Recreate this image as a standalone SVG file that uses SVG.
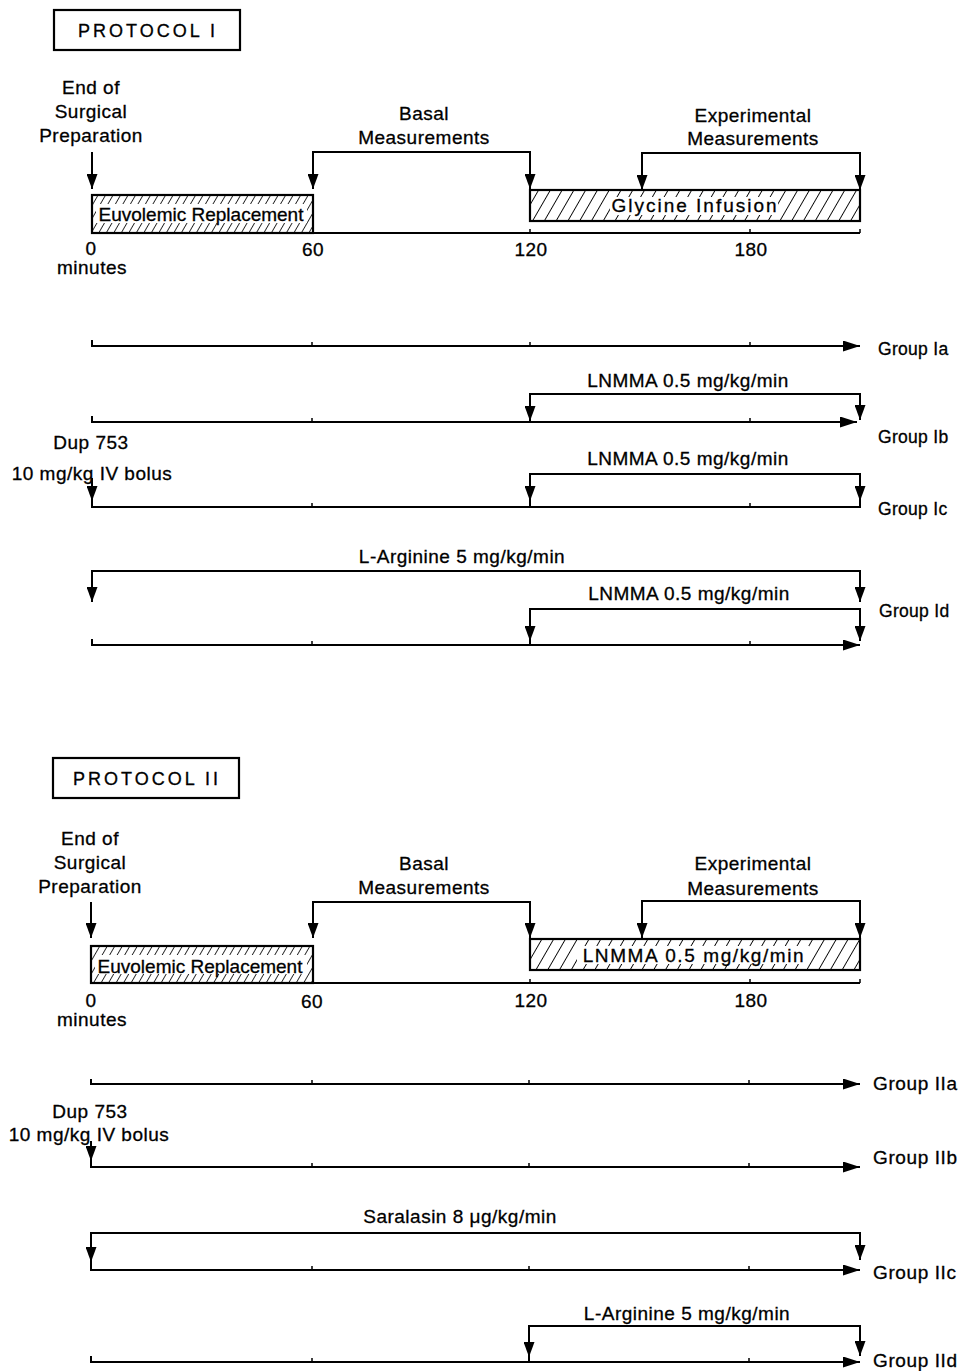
<svg xmlns="http://www.w3.org/2000/svg" width="959" height="1371" viewBox="0 0 959 1371">
<defs>
<style>
text{font-family:"Liberation Sans",Arial,Helvetica,sans-serif;fill:#000;stroke:#000;stroke-width:0.3px;font-size:19px;letter-spacing:0.5px}
.c{text-anchor:middle}
.grp1{font-size:17.5px;letter-spacing:0.3px}
.grp2{font-size:19px;letter-spacing:0.6px}
.title{font-size:18px;letter-spacing:3px}
.ln{fill:none;stroke:#000;stroke-width:2}
.dn{fill:none;stroke:#000;stroke-width:2;marker-end:url(#ah)}
.br{fill:none;stroke:#000;stroke-width:2;marker-start:url(#ah);marker-end:url(#ah)}
.ax{fill:none;stroke:#000;stroke-width:2;marker-end:url(#ahH)}
.tk{fill:none;stroke:#000;stroke-width:1.5}
.box{stroke:#000;stroke-width:2.2}
</style>
<marker id="ah" viewBox="0 0 15 11" refX="15" refY="5.5" markerWidth="15" markerHeight="11" orient="auto-start-reverse" markerUnits="userSpaceOnUse"><path d="M0,0 L15,5.5 L0,11 z" fill="#000"/></marker>
<marker id="ahH" viewBox="0 0 17 11" refX="17" refY="5.5" markerWidth="17" markerHeight="11" orient="auto" markerUnits="userSpaceOnUse"><path d="M0,0 L17,5.5 L0,11 z" fill="#000"/></marker>
<pattern id="hatchA" patternUnits="userSpaceOnUse" width="6.5" height="20" patternTransform="rotate(30)"><rect width="6.5" height="20" fill="#fff"/><line x1="0" y1="0" x2="0" y2="20" stroke="#000" stroke-width="1.6"/></pattern>
<pattern id="hatchB" patternUnits="userSpaceOnUse" width="10.2" height="20" patternTransform="rotate(30)"><rect width="10.2" height="20" fill="#fff"/><line x1="0" y1="0" x2="0" y2="20" stroke="#000" stroke-width="1.8"/></pattern>
</defs>
<rect width="959" height="1371" fill="#fff"/>

<!-- ===================== PROTOCOL I ===================== -->
<g id="protocol1-title">
<rect x="54" y="10" width="186" height="40" fill="none" class="box"/>
<text x="148" y="37" class="c title">PROTOCOL I</text>
</g>
<g id="p1-end-surgical">
<text x="91" y="94" class="c">End of</text>
<text x="91" y="118" class="c">Surgical</text>
<text x="91" y="142" class="c">Preparation</text>
</g>
<g id="p1-basal">
<text x="424" y="120" class="c">Basal</text>
<text x="424" y="144" class="c">Measurements</text>
</g>
<g id="p1-experimental">
<text x="753" y="122" class="c">Experimental</text>
<text x="753" y="145" class="c">Measurements</text>
</g>
<g id="p1-euvolemic">
<rect x="92" y="195" width="221" height="38" fill="url(#hatchA)" class="box"/>
<rect x="96" y="204" width="211" height="19" fill="#fff"/>
<text x="201" y="221" class="c" style="letter-spacing:0">Euvolemic Replacement</text>
</g>
<g id="p1-glycine">
<rect x="530" y="190" width="330" height="31" fill="url(#hatchB)" class="box"/>
<rect x="610" y="197" width="168" height="18" fill="#fff"/>
<text x="695" y="212" class="c" style="letter-spacing:2px">Glycine Infusion</text>
</g>
<g id="p1-scale">
<text x="91" y="255" class="c">0</text>
<text x="92" y="274" class="c">minutes</text>
<text x="313" y="256" class="c">60</text>
<text x="531" y="256" class="c">120</text>
<text x="751" y="256" class="c">180</text>
</g>
<g id="p1-group-ia"><text x="878" y="355" class="grp1">Group Ia</text></g>
<g id="p1-group-ib">
<text x="688" y="387" class="c">LNMMA 0.5 mg/kg/min</text>
<text x="878" y="443" class="grp1">Group Ib</text>
</g>
<g id="p1-group-ic">
<text x="91" y="449" class="c">Dup 753</text>
<text x="92" y="480" class="c">10 mg/kg IV bolus</text>
<text x="688" y="465" class="c">LNMMA 0.5 mg/kg/min</text>
<text x="878" y="515" class="grp1">Group Ic</text>
</g>
<g id="p1-group-id">
<text x="462" y="563" class="c">L-Arginine 5 mg/kg/min</text>
<text x="689" y="600" class="c">LNMMA 0.5 mg/kg/min</text>
<text x="879" y="617" class="grp1">Group Id</text>
</g>

<!-- ===================== PROTOCOL II ===================== -->
<g id="protocol2-title">
<rect x="53" y="758" width="186" height="40" fill="none" class="box"/>
<text x="147" y="785" class="c title">PROTOCOL II</text>
</g>
<g id="p2-end-surgical">
<text x="90" y="845" class="c">End of</text>
<text x="90" y="869" class="c">Surgical</text>
<text x="90" y="893" class="c">Preparation</text>
</g>
<g id="p2-basal">
<text x="424" y="870" class="c">Basal</text>
<text x="424" y="894" class="c">Measurements</text>
</g>
<g id="p2-experimental">
<text x="753" y="870" class="c">Experimental</text>
<text x="753" y="895" class="c">Measurements</text>
</g>
<g id="p2-euvolemic">
<rect x="91" y="946" width="222" height="37" fill="url(#hatchA)" class="box"/>
<rect x="95" y="955" width="212" height="19" fill="#fff"/>
<text x="200" y="973" class="c" style="letter-spacing:0">Euvolemic Replacement</text>
</g>
<g id="p2-lnmma">
<rect x="530" y="939" width="330" height="31" fill="url(#hatchB)" class="box"/>
<rect x="577" y="946" width="232" height="18" fill="#fff"/>
<text x="694" y="962" class="c" style="letter-spacing:1.6px">LNMMA 0.5 mg/kg/min</text>
</g>
<g id="p2-scale">
<text x="91" y="1007" class="c">0</text>
<text x="92" y="1026" class="c">minutes</text>
<text x="312" y="1008" class="c">60</text>
<text x="531" y="1007" class="c">120</text>
<text x="751" y="1007" class="c">180</text>
</g>
<g id="p2-group-iia"><text x="873" y="1090" class="grp2">Group IIa</text></g>
<g id="p2-group-iib">
<text x="90" y="1118" class="c">Dup 753</text>
<text x="89" y="1141" class="c">10 mg/kg IV bolus</text>
<text x="873" y="1164" class="grp2">Group IIb</text>
</g>
<g id="p2-group-iic">
<text x="460" y="1223" class="c">Saralasin 8 μg/kg/min</text>
<text x="873" y="1279" class="grp2">Group IIc</text>
</g>
<g id="p2-group-iid">
<text x="687" y="1320" class="c">L-Arginine 5 mg/kg/min</text>
<text x="873" y="1367" class="grp2">Group IId</text>
</g>

<!-- ===================== CONNECTORS ===================== -->
<g id="connectors">
<!-- Protocol I top -->
<path class="dn" d="M92,152 V189"/>
<path class="br" d="M313,189 V152 H530 V189"/>
<path class="br" d="M642,190 V153 H860 V190"/>
<path class="ln" d="M313,233 H860"/>
<path class="tk" d="M530,229 V233 M750,229 V233 M860,229 V233"/>
<!-- Group Ia -->
<path class="ax" d="M92,340 V346 H860"/>
<path class="tk" d="M312,342 V346 M530,342 V346 M750,342 V346"/>
<!-- Group Ib -->
<path class="ax" d="M92,416 V422 H857"/>
<path class="tk" d="M312,418 V422 M750,418 V422"/>
<path class="br" d="M530,421 V394 H860 V420"/>
<!-- Group Ic -->
<path class="dn" d="M92,478 V501"/>
<path class="ln" d="M92,501 V507 H860 V501"/>
<path class="tk" d="M312,503 V507 M750,503 V507"/>
<path class="br" d="M530,501 V474 H860 V501"/>
<path class="ln" d="M530,501 V507"/>
<!-- Group Id -->
<path class="br" d="M92,602 V571 H860 V602"/>
<path class="br" d="M530,641 V609 H860 V641"/>
<path class="ln" d="M530,641 V645"/>
<path class="ax" d="M92,639 V645 H860"/>
<path class="tk" d="M312,641 V645 M750,641 V645"/>

<!-- Protocol II top -->
<path class="dn" d="M91,902 V938"/>
<path class="br" d="M313,938 V902 H530 V938"/>
<path class="br" d="M642,938 V901 H860 V938"/>
<path class="ln" d="M313,983 H860"/>
<path class="tk" d="M530,979 V983 M750,979 V983 M860,979 V983"/>
<!-- Group IIa -->
<path class="ax" d="M91,1079 V1084 H860"/>
<path class="tk" d="M312,1080 V1084 M529,1080 V1084 M749,1080 V1084"/>
<!-- Group IIb -->
<path class="dn" d="M91,1141 V1161"/>
<path class="ax" d="M91,1161 V1167 H860"/>
<path class="tk" d="M312,1163 V1167 M529,1163 V1167 M749,1163 V1167"/>
<!-- Group IIc -->
<path class="br" d="M91,1262 V1233 H860 V1260"/>
<path class="ax" d="M91,1262 V1270 H860"/>
<path class="tk" d="M312,1266 V1270 M529,1266 V1270 M749,1266 V1270"/>
<!-- Group IId -->
<path class="br" d="M529,1357 V1326 H860 V1356"/>
<path class="ln" d="M529,1357 V1362"/>
<path class="ax" d="M91,1356 V1362 H860"/>
<path class="tk" d="M312,1358 V1362 M749,1358 V1362"/>
</g>
</svg>
